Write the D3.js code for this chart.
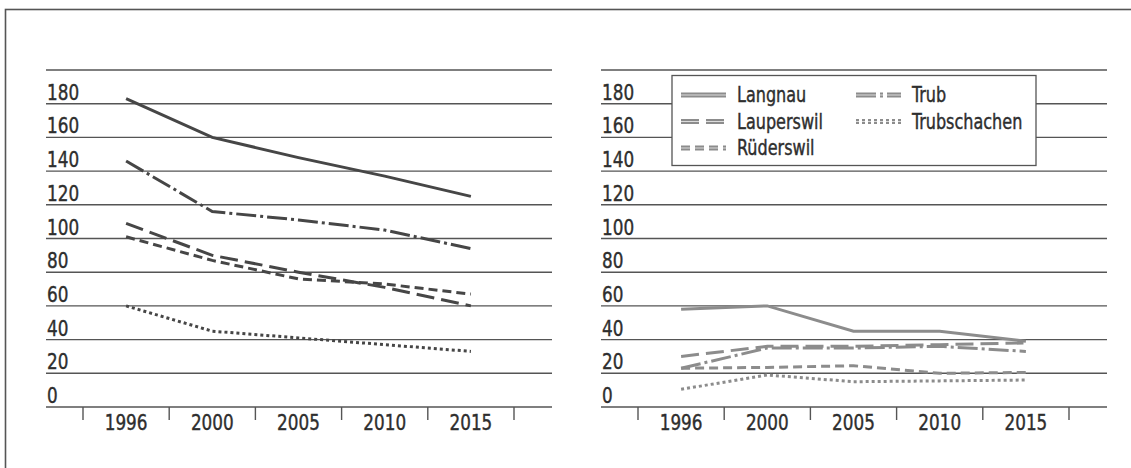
<!DOCTYPE html>
<html><head><meta charset="utf-8">
<script src="https://cdn.jsdelivr.net/npm/d3@7/dist/d3.min.js"></script>
<style>
html,body{margin:0;padding:0;background:#fff;}
svg text{font-family:"DejaVu Sans Condensed","DejaVu Sans","Open Sans",sans-serif;fill:#2e2e2e;stroke:#2e2e2e;stroke-width:0.4px;}
</style></head>
<body><svg id="c" width="1131" height="468"></svg>
<script>
const years = ["1996","2000","2005","2010","2015"];
const yTicks = [0,20,40,60,80,100,120,140,160,180,200];
const yLabels = [0,20,40,60,80,100,120,140,160,180];
const seriesNames = ["Langnau","Lauperswil","Rüderswil","Trub","Trubschachen"];
// left panel
const leftLangnau      = [183,160,148,137,125];
const leftTrub         = [146,116,111,105,94];
const leftLauperswil   = [109,90,80,71,60];
const leftRuederswil   = [101,87,76,73,67];
const leftTrubschachen = [60,45,41,37,33];
// right panel
const rightLangnau      = [58,60,45,45,39];
const rightTrub         = [23,35,35,36,33];
const rightLauperswil   = [30,36,36,37,38];
const rightRuederswil   = [23,23.5,24.5,20,20.5];
const rightTrubschachen = [10.5,19,15,15.5,16];

const dashes = {
  "Langnau": null,
  "Lauperswil": "18,7",
  "Rüderswil": "9,5",
  "Trub": "20,4,3,4",
  "Trubschachen": "3,3"
};

const SX = 0.85;
function txt(g, x, yy, s, size, anchor) {
  return g.append("text")
    .attr("transform", `translate(${x},${yy}) scale(${SX},1)`)
    .attr("font-size", size).attr("text-anchor", anchor || "start").text(s);
}

const svg = d3.select("#c");
svg.append("rect").attr("x",5.5).attr("y",9.5).attr("width",1135).attr("height",470)
  .attr("fill","none").attr("stroke","#555").attr("stroke-width",1.6);

const y = d3.scaleLinear().domain([0,200]).range([407,70]);

function panel(x0, data, color) {
  const width = 506;
  const x = d3.scaleBand().domain(years).range([x0+37, x0+37+431]);
  const g = svg.append("g");
  g.selectAll("line.grid").data(yTicks).join("line")
    .attr("x1",x0).attr("x2",x0+width)
    .attr("y1",d=>y(d)).attr("y2",d=>y(d))
    .attr("stroke","#555").attr("stroke-width",1.4);
  yLabels.forEach(v => txt(g, x0+1, y(v)-4, v, 22));
  const tickPos = years.map(v=>x(v)).concat([x(years[years.length-1])+x.bandwidth()]);
  g.selectAll("line.tk").data(tickPos).join("line")
    .attr("x1",d=>d).attr("x2",d=>d).attr("y1",y(0)).attr("y2",y(0)+13)
    .attr("stroke","#555").attr("stroke-width",1.4);
  years.forEach(v => txt(g, x(v)+x.bandwidth()/2, y(0)+23, v, 22, "middle"));
  const line = d3.line().x((d,i)=>x(years[i])+x.bandwidth()/2).y(d=>y(d));
  data.forEach(s=>{
    g.append("path").attr("d",line(s.values)).attr("fill","none")
      .attr("stroke",color).attr("stroke-width",3)
      .attr("stroke-dasharray",dashes[s.name]);
  });
}

panel(46, [
  {name:"Langnau",values:leftLangnau},
  {name:"Trub",values:leftTrub},
  {name:"Lauperswil",values:leftLauperswil},
  {name:"Rüderswil",values:leftRuederswil},
  {name:"Trubschachen",values:leftTrubschachen}
], "#464646");

panel(601, [
  {name:"Langnau",values:rightLangnau},
  {name:"Trub",values:rightTrub},
  {name:"Lauperswil",values:rightLauperswil},
  {name:"Rüderswil",values:rightRuederswil},
  {name:"Trubschachen",values:rightTrubschachen}
], "#8c8c8c");

// legend
const lg = svg.append("g");
lg.append("rect").attr("x",672).attr("y",75.5).attr("width",364).attr("height",90)
  .attr("fill","#fff").attr("stroke","#555").attr("stroke-width",1.3);
const legendPos = {
  "Langnau":[681,737,95], "Lauperswil":[681,737,121.5], "Rüderswil":[681,737,148],
  "Trub":[856,912,95], "Trubschachen":[856,912,121.5]
};
seriesNames.forEach(n=>{
  const [sx,tx,cy]=legendPos[n];
  lg.append("line").attr("x1",sx).attr("x2",sx+45).attr("y1",cy).attr("y2",cy)
    .attr("stroke","#8c8c8c").attr("stroke-width",5).attr("stroke-dasharray",dashes[n]);
  lg.append("line").attr("x1",sx).attr("x2",sx+45).attr("y1",cy).attr("y2",cy)
    .attr("stroke","#fff").attr("stroke-width",1).attr("opacity",0.7);
  txt(lg, tx, cy+7, n, 21);
});
</script></body></html>
